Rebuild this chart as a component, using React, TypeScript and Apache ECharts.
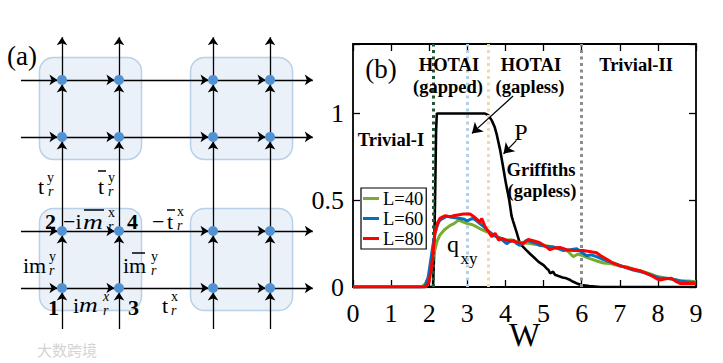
import React, { useEffect, useRef } from 'react';
import * as echarts from 'echarts';

// ---------- Panel (b) data ----------
const wTicks = [0, 1, 2, 3, 4, 5, 6, 7, 8, 9];
const yTickLabels: Record<string, string> = { '0': '0', '0.5': '0.5', '1': '1' };

const qL40: [number, number][] = [
  [0, 0], [1.8, 0], [1.9, 0.02], [2.0, 0.07], [2.1, 0.17], [2.2, 0.26], [2.28, 0.3], [2.4, 0.33],
  [2.55, 0.355], [2.65, 0.365], [2.77, 0.385], [2.88, 0.375], [3.0, 0.365], [3.12, 0.36], [3.25, 0.346], [3.38, 0.33],
  [3.51, 0.318], [3.64, 0.3], [3.77, 0.289], [3.9, 0.28], [4.03, 0.27], [4.15, 0.272], [4.3, 0.26], [4.45, 0.255],
  [4.64, 0.25], [4.8, 0.245], [5.0, 0.24], [5.2, 0.232], [5.4, 0.225], [5.6, 0.215], [5.78, 0.174], [5.9, 0.19],
  [6.04, 0.18], [6.2, 0.165], [6.4, 0.15], [6.57, 0.138], [6.75, 0.135], [7.0, 0.12], [7.2, 0.115], [7.4, 0.1],
  [7.6, 0.09], [7.8, 0.075], [8.0, 0.06], [8.2, 0.05], [8.4, 0.045], [8.6, 0.035], [8.8, 0.035], [9.0, 0.03],
];
const qL60: [number, number][] = [
  [0, 0], [1.88, 0], [1.97, 0.05], [2.03, 0.14], [2.09, 0.23], [2.15, 0.31], [2.22, 0.36], [2.28, 0.385], [2.46, 0.408],
  [2.63, 0.4], [2.81, 0.395], [2.92, 0.39], [3.0, 0.38], [3.08, 0.39], [3.16, 0.395], [3.25, 0.38], [3.33, 0.366],
  [3.42, 0.35], [3.51, 0.33], [3.6, 0.315], [3.68, 0.3], [3.78, 0.29], [3.86, 0.28], [3.95, 0.265], [4.03, 0.25],
  [4.12, 0.262], [4.21, 0.27], [4.3, 0.25], [4.38, 0.24], [4.47, 0.255], [4.56, 0.27], [4.7, 0.258], [4.82, 0.25],
  [4.9, 0.24], [5.05, 0.235], [5.26, 0.23], [5.4, 0.22], [5.52, 0.21], [5.7, 0.215], [5.87, 0.22], [6.0, 0.2],
  [6.13, 0.18], [6.25, 0.185], [6.39, 0.175], [6.55, 0.16], [6.74, 0.145], [6.88, 0.135], [7.0, 0.125], [7.18, 0.11],
  [7.35, 0.098], [7.5, 0.09], [7.7, 0.079], [7.9, 0.062], [8.06, 0.05], [8.25, 0.05], [8.41, 0.044], [8.6, 0.035],
  [8.76, 0.03], [9.0, 0.025],
];
const qL80: [number, number][] = [
  [0, 0], [1.9, 0], [2.0, 0.03], [2.08, 0.15], [2.15, 0.31], [2.22, 0.37], [2.28, 0.395], [2.41, 0.41], [2.55, 0.405],
  [2.63, 0.41], [2.75, 0.415], [2.9, 0.42], [3.07, 0.42], [3.2, 0.4], [3.33, 0.375], [3.38, 0.395], [3.46, 0.35],
  [3.55, 0.32], [3.64, 0.29], [3.73, 0.31], [3.82, 0.27], [3.9, 0.28], [4.03, 0.27], [4.15, 0.265], [4.29, 0.26],
  [4.47, 0.25], [4.6, 0.274], [4.75, 0.265], [4.9, 0.255], [5.08, 0.23], [5.17, 0.215], [5.3, 0.225], [5.43, 0.228],
  [5.6, 0.215], [5.78, 0.21], [6.04, 0.21], [6.2, 0.205], [6.39, 0.197], [6.5, 0.18], [6.66, 0.16], [6.8, 0.14],
  [7.0, 0.123], [7.27, 0.107], [7.53, 0.094], [7.8, 0.069], [7.95, 0.05], [8.05, 0.04], [8.2, 0.048], [8.36, 0.05],
  [8.45, 0.035], [8.58, 0.02], [8.8, 0.02], [9.0, 0.02],
];
const polP: [number, number][] = [
  [0, 0], [2.1, 0], [2.13, 0.2], [2.16, 0.6], [2.18, 0.9], [2.2, 1.0], [3.45, 1.0], [3.55, 0.99], [3.64, 0.96],
  [3.72, 0.92], [3.77, 0.88], [3.86, 0.79], [3.94, 0.69], [4.01, 0.6], [4.1, 0.5], [4.16, 0.41], [4.2, 0.38],
  [4.3, 0.31], [4.38, 0.25], [4.47, 0.23], [4.56, 0.21], [4.65, 0.19], [4.73, 0.174], [4.87, 0.145], [5.0, 0.126],
  [5.08, 0.107], [5.13, 0.098], [5.17, 0.079], [5.25, 0.088], [5.3, 0.07], [5.39, 0.063], [5.5, 0.055], [5.6, 0.05],
  [5.7, 0.04], [5.78, 0.03], [5.9, 0.018], [6.0, 0.012], [6.2, 0.005], [6.5, 0], [9, 0],
];
const phaseLines = [
  { w: 2.1, color: '#24573a' },
  { w: 3.0, color: '#b3cfec' },
  { w: 3.55, color: '#f0d9ab' },
  { w: 6.0, color: '#8c8c8c' },
];
const annotationArrows: [number, number][][] = [
  [[4.2, 1.1], [3.12, 0.885]],
  [[4.29, 0.845], [3.95, 0.768]],
];

// ---------- Panel (a) lattice ----------
const latticePos = [0, 1, 2.65, 3.65];
const lineStart = -0.72;
const lineEnd = 4.4;
const arrowGap = 0.08;
const boxCenters: [number, number][] = [[0.5, 0.5], [3.15, 0.5], [0.5, 3.15], [3.15, 3.15]];
const BOX_SIZE = 1.79;

const SERIF = 'Liberation Serif';

function buildSegments() {
  const stops = [lineStart, ...latticePos, lineEnd];
  const segs: { coords: number[][] }[] = [];
  for (const p of latticePos) {
    for (let i = 0; i < stops.length - 1; i++) {
      const a = stops[i];
      const b = i + 1 < stops.length - 1 ? stops[i + 1] - arrowGap : stops[i + 1];
      segs.push({ coords: [[a, p], [b, p]] });
      segs.push({ coords: [[p, a], [p, b]] });
    }
  }
  return segs;
}
const latticeDots: [number, number][] = [];
latticePos.forEach((x) => latticePos.forEach((y) => latticeDots.push([x, y])));

// ---------- panel (a) hopping labels: text parts ----------
type Part = { t: string; x: number; y: number; s: number; it?: boolean; b?: boolean; sx?: number };
const hopParts: Part[] = [
  // t_r^y
  { t: 't', x: 38, y: 186, s: 22 }, { t: 'y', x: 47, y: 177, s: 14 }, { t: 'r', x: 48, y: 191, s: 14, it: true },
  // tbar_r^y
  { t: 't', x: 98, y: 186, s: 22 }, { t: 'y', x: 108, y: 177, s: 14 }, { t: 'r', x: 108, y: 191, s: 14, it: true },
  // 2  -i mbar_r^x  4
  { t: '2', x: 45, y: 221, s: 22, b: true },
  { t: '\u2212i', x: 63, y: 221, s: 22 }, { t: 'm', x: 83, y: 221, s: 22, it: true, sx: 1.25 },
  { t: 'x', x: 108, y: 212, s: 14 }, { t: 'r', x: 108, y: 226, s: 14, it: true },
  { t: '4', x: 127, y: 221, s: 22, b: true },
  // -tbar_r^x
  { t: '\u2212', x: 152, y: 221, s: 22 }, { t: 't', x: 167, y: 221, s: 22 },
  { t: 'x', x: 177, y: 211, s: 14 }, { t: 'r', x: 177, y: 225, s: 14, it: true },
  // im_r^y
  { t: 'im', x: 23, y: 265, s: 22 }, { t: 'y', x: 49, y: 256, s: 14 }, { t: 'r', x: 49, y: 270, s: 14, it: true },
  // i mbar_r^y
  { t: 'im', x: 123, y: 265, s: 22 }, { t: 'y', x: 151, y: 256, s: 14 }, { t: 'r', x: 151, y: 270, s: 14, it: true },
  // 1  i m_r^x  3
  { t: '1', x: 48, y: 307, s: 22, b: true },
  { t: 'i', x: 73, y: 305, s: 22 }, { t: 'm', x: 79, y: 305, s: 22, it: true, sx: 1.18 },
  { t: 'x', x: 103, y: 296, s: 14, it: true }, { t: 'r', x: 103, y: 310, s: 14, it: true },
  { t: '3', x: 128, y: 307, s: 22, b: true },
  // t_r^x
  { t: 't', x: 162, y: 305, s: 22 }, { t: 'x', x: 171, y: 296, s: 14 }, { t: 'r', x: 171, y: 310, s: 14, it: true },
];
// overbars: [x1, x2, y]
const overBars: [number, number, number][] = [
  [98, 106, 171], [84, 104, 210], [167, 175, 210], [132, 145, 253],
];

const panelBTexts = [
  { t: '(b)', x: 381, y: 69, f: `27px ${SERIF}` },
  { t: 'HOTAI', x: 449, y: 65, f: `bold 18.5px ${SERIF}` },
  { t: '(gapped)', x: 448, y: 87, f: `bold 18.5px ${SERIF}` },
  { t: 'HOTAI', x: 531, y: 65, f: `bold 18.5px ${SERIF}` },
  { t: '(gapless)', x: 530, y: 87, f: `bold 18.5px ${SERIF}` },
  { t: 'Trivial-II', x: 636, y: 65, f: `bold 18.5px ${SERIF}` },
  { t: 'Trivial-I', x: 391, y: 140, f: `bold 18.5px ${SERIF}` },
  { t: 'P', x: 521, y: 132, f: `24px ${SERIF}` },
  { t: 'Griffiths', x: 541, y: 170, f: `bold 18.5px ${SERIF}` },
  { t: '(gapless)', x: 542, y: 191, f: `bold 18.5px ${SERIF}` },
  { t: 'q', x: 453, y: 244, f: `24px ${SERIF}` },
  { t: 'xy', x: 469, y: 258, f: `17px ${SERIF}` },
  { t: '(a)', x: 22, y: 56, f: `27px ${SERIF}` },
];

function buildGraphic() {
  const els: any[] = [];
  for (const p of hopParts) {
    const font = `${p.it ? 'italic ' : ''}${p.b ? 'bold ' : ''}${p.s}px ${SERIF}`;
    els.push({
      type: 'text', x: p.x, y: p.y, z: 100, scaleX: p.sx ?? 1,
      style: { text: p.t, font, fill: '#000', align: 'left', verticalAlign: 'middle' },
    });
  }
  for (const [x1, x2, y] of overBars) {
    els.push({ type: 'line', z: 100, shape: { x1, y1: y, x2, y2: y }, style: { stroke: '#000', lineWidth: 1.5 } });
  }
  for (const t of panelBTexts) {
    els.push({ type: 'text', x: t.x, y: t.y, z: 100, style: { text: t.t, font: t.f, fill: '#000', align: 'center', verticalAlign: 'middle' } });
  }
  els.push({ type: 'text', x: 37, y: 349, z: 100, style: { text: '大数跨境', font: '15px Noto Sans CJK SC', fill: '#d4d4d4', align: 'left', verticalAlign: 'middle' } });
  return els;
}

const axisLineStyle = { color: '#000', width: 1.8 };
const tickStyle = { show: true, inside: true, length: 7, lineStyle: { color: '#000', width: 1.3 } };

const option: any = {
  animation: false,
  backgroundColor: '#fff',
  textStyle: { fontFamily: SERIF },
  grid: [
    { left: 5, top: 3, width: 342, height: 342, show: false, containLabel: false, outerBoundsMode: 'none' },
    { left: 353, top: 44, width: 343, height: 243, show: false, containLabel: false, outerBoundsMode: 'none' },
  ],
  xAxis: [
    { gridIndex: 0, type: 'value', min: -1, max: 5, show: false },
    {
      gridIndex: 1, type: 'value', min: 0, max: 9, interval: 1, position: 'bottom',
      axisLine: { show: true, onZero: false, lineStyle: axisLineStyle },
      axisTick: tickStyle,
      axisLabel: { show: true, color: '#000', fontFamily: SERIF, fontSize: 26, margin: 13, hideOverlap: false, formatter: (v: number) => (wTicks.includes(v) ? String(v) : '') },
      splitLine: { show: false },
      name: 'W', nameLocation: 'middle', nameGap: 31, nameMoveOverlap: false,
      nameTextStyle: { color: '#000', fontFamily: SERIF, fontSize: 33 },
    },
    {
      gridIndex: 1, type: 'value', min: 0, max: 9, interval: 1, position: 'top',
      axisLine: { show: true, onZero: false, lineStyle: axisLineStyle },
      axisTick: tickStyle,
      axisLabel: { show: false }, splitLine: { show: false },
    },
  ],
  yAxis: [
    { gridIndex: 0, type: 'value', min: -1, max: 5, show: false },
    {
      gridIndex: 1, type: 'value', min: 0, max: 1.4, interval: 0.5, position: 'left',
      axisLine: { show: true, onZero: false, lineStyle: axisLineStyle },
      axisTick: tickStyle,
      axisLabel: { show: true, color: '#000', fontFamily: SERIF, fontSize: 26, margin: 9, formatter: (v: number) => yTickLabels[String(v)] ?? '' },
      splitLine: { show: false },
    },
    {
      gridIndex: 1, type: 'value', min: 0, max: 1.4, interval: 0.5, position: 'right',
      axisLine: { show: true, onZero: false, lineStyle: axisLineStyle },
      axisTick: tickStyle,
      axisLabel: { show: false }, splitLine: { show: false },
    },
  ],
  legend: {
    data: ['L=40', 'L=60', 'L=80'],
    orient: 'vertical', left: 361, top: 188,
    icon: 'rect', itemWidth: 16, itemHeight: 3, itemGap: 1,
    padding: [1, 3, 1, 2],
    borderColor: '#000', borderWidth: 1.2, backgroundColor: '#fff',
    textStyle: { color: '#000', fontFamily: SERIF, fontSize: 18.5, lineHeight: 18, padding: [0, 0, 0, -1] },
    z: 20,
  },
  series: [
    {
      type: 'custom', xAxisIndex: 0, yAxisIndex: 0, z: 1, silent: true,
      data: boxCenters,
      renderItem: (_p: any, api: any) => {
        const c = api.coord([api.value(0), api.value(1)]);
        const s = api.size([BOX_SIZE, BOX_SIZE]);
        return {
          type: 'rect',
          shape: { x: c[0] - s[0] / 2, y: c[1] - s[1] / 2, width: s[0], height: s[1], r: 14 },
          style: { fill: '#eaf1f9', stroke: '#b9d0e9', lineWidth: 1.5 },
        };
      },
    },
    {
      type: 'lines', coordinateSystem: 'cartesian2d', xAxisIndex: 0, yAxisIndex: 0, z: 2, silent: true,
      symbol: ['none', 'arrow'], symbolSize: 8,
      lineStyle: { color: '#000', width: 1.3, opacity: 1, curveness: 0 },
      data: buildSegments(),
    },
    {
      type: 'scatter', xAxisIndex: 0, yAxisIndex: 0, z: 3, silent: true,
      symbolSize: 10, itemStyle: { color: '#5292d3', opacity: 1 },
      data: latticeDots,
    },
    {
      name: 'phase', type: 'line', xAxisIndex: 1, yAxisIndex: 1, z: 1, silent: true,
      data: [[0, 0]], showSymbol: false, lineStyle: { opacity: 0 },
      markLine: {
        silent: true, symbol: ['none', 'none'], label: { show: false },
        data: phaseLines.map((p) => ({ xAxis: p.w, lineStyle: { color: p.color, width: 3, type: [3, 3.5] } })),
      },
    },
    {
      name: 'P', type: 'line', xAxisIndex: 1, yAxisIndex: 1, z: 3, showSymbol: false, silent: true,
      data: polP, lineStyle: { color: '#000', width: 2.6 }, itemStyle: { color: '#000' },
    },
    {
      name: 'L=40', type: 'line', xAxisIndex: 1, yAxisIndex: 1, z: 4, showSymbol: false, silent: true,
      data: qL40, lineStyle: { color: '#77ac30', width: 3 }, itemStyle: { color: '#77ac30' },
    },
    {
      name: 'L=60', type: 'line', xAxisIndex: 1, yAxisIndex: 1, z: 5, showSymbol: false, silent: true,
      data: qL60, lineStyle: { color: '#0072bd', width: 3 }, itemStyle: { color: '#0072bd' },
    },
    {
      name: 'L=80', type: 'line', xAxisIndex: 1, yAxisIndex: 1, z: 6, showSymbol: false, silent: true,
      data: qL80, lineStyle: { color: '#ff0000', width: 3 }, itemStyle: { color: '#ff0000' },
    },
    {
      type: 'lines', coordinateSystem: 'cartesian2d', xAxisIndex: 1, yAxisIndex: 1, z: 7, silent: true,
      symbol: ['none', 'arrow'], symbolSize: 10,
      lineStyle: { color: '#000', width: 1.3, opacity: 1 },
      data: annotationArrows.map((c) => ({ coords: c })),
    },
  ],
  graphic: buildGraphic(),
};

export default function App() {
  const ref = useRef<HTMLDivElement>(null);
  useEffect(() => {
    const chart = echarts.init(ref.current!, null, { renderer: 'svg' });
    chart.setOption(option);
    return () => chart.dispose();
  }, []);
  return (
    <div
      ref={ref}
      style={{ position: 'fixed', left: 0, top: 0, width: 723, height: 363, background: '#fff' }}
    />
  );
}
